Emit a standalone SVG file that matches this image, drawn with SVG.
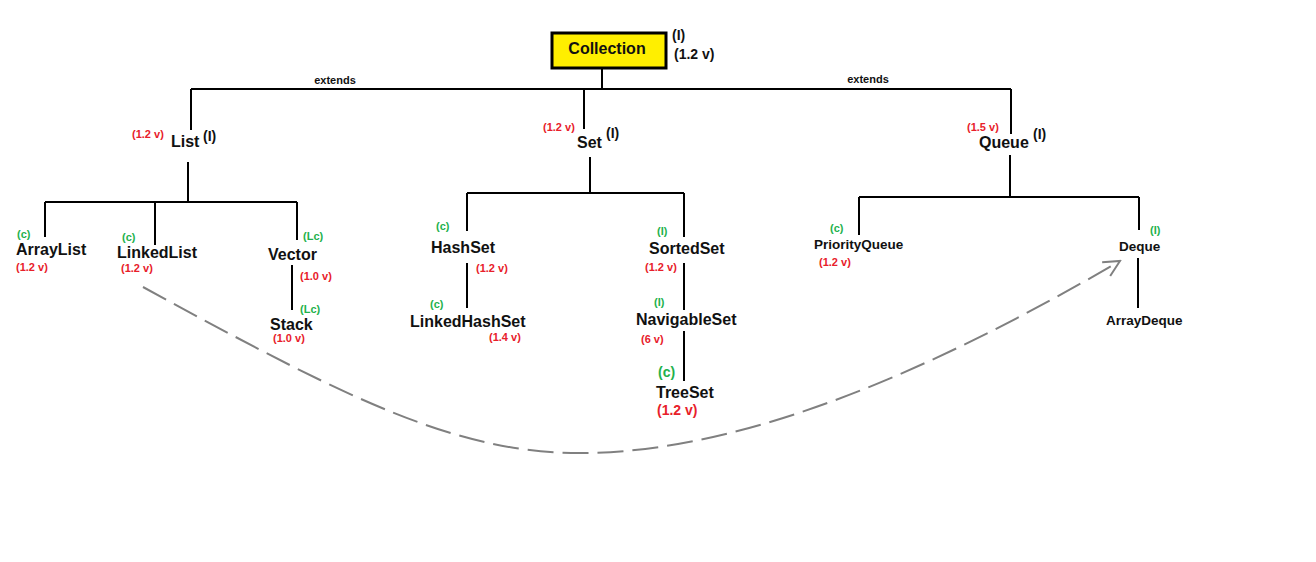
<svg xmlns="http://www.w3.org/2000/svg" width="1316" height="562" viewBox="0 0 1316 562">
<style>
text{font-family:"Liberation Sans",Arial,sans-serif;font-weight:bold}
.n{font-size:16px;fill:#111}
.ns{font-size:13.5px;fill:#111}
.r{font-size:11px;fill:#e8202a}
.g{font-size:11px;fill:#22b14c}
.k{font-size:14px;fill:#111}
.e{font-size:11px;fill:#111}
.l{stroke:#000;stroke-width:2;fill:none}
</style>
<defs>
<marker id="open" viewBox="0 0 20 20" refX="18" refY="10" markerWidth="20" markerHeight="20" markerUnits="userSpaceOnUse" orient="auto">
<path d="M2,2 L18,10 L2,18" fill="none" stroke="#808080" stroke-width="2"/>
</marker>
</defs>
<rect width="1316" height="562" fill="#fff"/>
<g id="connectors">
<path class="l" d="M602,69 V89 M191,89 H1011 M191,89 V130 M584,89 V129 M1011,89 V134"/>
<path class="l" d="M188,162 V202 M45,202 H297 M45,202 V237 M155,202 V245 M297,202 V240 M292,265 V310"/>
<path class="l" d="M590,157 V193 M467,193 H684 M467,193 V231 M684,193 V237 M467,263 V308 M684,263 V310 M684,331 V381"/>
<path class="l" d="M1010,155 V197 M859,197 H1139 M859,197 V235 M1139,197 V230 M1138,258 V308"/>
<path d="M143,287 C350,400 460,456 590,453 C760,449 950,360 1120,261" fill="none" stroke="#808080" stroke-width="2" stroke-dasharray="26 9" marker-end="url(#open)"/>
<text class="e" x="335" y="84" text-anchor="middle">extends</text>
<text class="e" x="868" y="83" text-anchor="middle">extends</text>
</g>
<g id="collection">
<rect x="552" y="33" width="114" height="35" fill="#ffef00" stroke="#000" stroke-width="3"/>
<text class="n" x="607" y="54" text-anchor="middle">Collection</text>
<text class="k" x="672" y="40">(I)</text>
<text class="k" x="674" y="59">(1.2 v)</text>
</g>
<g id="list">
<text class="n" x="171" y="147">List</text>
<text class="r" x="132" y="138">(1.2 v)</text>
<text class="k" x="203" y="141">(I)</text>
</g>
<g id="arraylist">
<text class="n" x="16" y="255">ArrayList</text>
<text class="g" x="17" y="238">(c)</text>
<text class="r" x="16" y="271">(1.2 v)</text>
</g>
<g id="linkedlist">
<text class="n" x="117" y="258">LinkedList</text>
<text class="g" x="122" y="241">(c)</text>
<text class="r" x="121" y="272">(1.2 v)</text>
</g>
<g id="vector">
<text class="n" x="268" y="260">Vector</text>
<text class="g" x="303" y="240">(Lc)</text>
<text class="r" x="300" y="280">(1.0 v)</text>
</g>
<g id="stack">
<text class="n" x="270" y="330">Stack</text>
<text class="g" x="300" y="313">(Lc)</text>
<text class="r" x="273" y="342">(1.0 v)</text>
</g>
<g id="set">
<text class="n" x="577" y="148">Set</text>
<text class="r" x="543" y="131">(1.2 v)</text>
<text class="k" x="606" y="138">(I)</text>
</g>
<g id="hashset">
<text class="n" x="431" y="253">HashSet</text>
<text class="g" x="436" y="230">(c)</text>
<text class="r" x="476" y="272">(1.2 v)</text>
</g>
<g id="linkedhashset">
<text class="n" x="410" y="327">LinkedHashSet</text>
<text class="g" x="430" y="308">(c)</text>
<text class="r" x="489" y="341">(1.4 v)</text>
</g>
<g id="sortedset">
<text class="n" x="649" y="254">SortedSet</text>
<text class="g" x="657" y="235">(I)</text>
<text class="r" x="645" y="271">(1.2 v)</text>
</g>
<g id="navigableset">
<text class="n" x="636" y="325">NavigableSet</text>
<text class="g" x="654" y="306">(I)</text>
<text class="r" x="641" y="343">(6 v)</text>
</g>
<g id="treeset">
<text class="n" x="656" y="398">TreeSet</text>
<text class="g" x="658" y="377" style="font-size:14px">(c)</text>
<text class="r" x="657" y="415" style="font-size:14px">(1.2 v)</text>
</g>
<g id="queue">
<text class="n" x="979" y="148">Queue</text>
<text class="r" x="967" y="131">(1.5 v)</text>
<text class="k" x="1033" y="139">(I)</text>
</g>
<g id="priorityqueue">
<text class="ns" x="814" y="249">PriorityQueue</text>
<text class="g" x="830" y="232">(c)</text>
<text class="r" x="819" y="266">(1.2 v)</text>
</g>
<g id="deque">
<text class="ns" x="1119" y="251">Deque</text>
<text class="g" x="1150" y="234">(I)</text>
</g>
<g id="arraydeque">
<text class="ns" x="1106" y="325">ArrayDeque</text>
</g>
</svg>
